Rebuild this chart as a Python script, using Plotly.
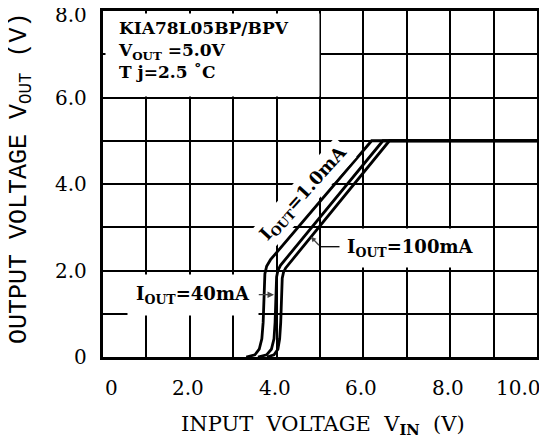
import plotly.graph_objects as go

# ---- data ----
x_ticks = [0, 2, 4, 6, 8, 10]
x_tick_labels = ["0", "2.0", "4.0", "6.0", "8.0", "10.0"]
y_ticks = [0, 2, 4, 6, 8]
y_tick_labels = ["0", "2.0", "4.0", "6.0", "8.0"]

vin_1mA = [3.30, 3.50, 3.60, 3.66, 3.69, 3.70, 3.71, 3.73, 3.77, 3.86, 6.19, 10.0]
vout_1mA = [0.00, 0.05, 0.18, 0.42, 0.80, 1.20, 1.65, 1.92, 2.10, 2.25, 5.00, 5.00]

vin_40mA = [3.57, 3.77, 3.88, 3.94, 3.965, 3.975, 3.985, 4.00, 4.03, 4.09, 6.45, 10.0]
vout_40mA = [0.00, 0.05, 0.18, 0.42, 0.80, 1.20, 1.60, 1.85, 2.00, 2.12, 5.00, 5.00]

vin_100mA = [3.78, 3.94, 4.03, 4.07, 4.095, 4.105, 4.115, 4.13, 4.16, 4.21, 6.60, 10.0]
vout_100mA = [0.00, 0.05, 0.18, 0.42, 0.80, 1.20, 1.60, 1.82, 1.96, 2.06, 5.00, 5.00]

info_lines = ["KIA78L05BP/BPV", "V<sub>OUT</sub> =5.0V", "T j=2.5 \u02daC"]
label_1mA = "I<sub>OUT</sub>=1.0mA"
label_40mA = "I<sub>OUT</sub>=40mA"
label_100mA = "I<sub>OUT</sub>=100mA"
x_title = "INPUT\u00a0\u00a0VOLTAGE\u00a0\u00a0V<sub><b>IN</b></sub>\u00a0\u00a0(V)"
y_title = "OUTPUT\u00a0VOLTAGE\u00a0V<sub>OUT</sub>\u00a0(V)"

SERIF = "DejaVu Serif"
fig = go.Figure()
for xs, ys in [(vin_1mA, vout_1mA), (vin_40mA, vout_40mA), (vin_100mA, vout_100mA)]:
    fig.add_trace(go.Scatter(x=xs, y=ys, mode="lines",
                             line=dict(color="black", width=2.8),
                             hoverinfo="skip"))

# leader line (horizontal part) for 100 mA label
fig.add_trace(go.Scatter(x=[5.01, 5.55], y=[2.55, 2.55], mode="lines",
                         line=dict(color="black", width=1.3), hoverinfo="skip"))

# the page has an 8px body margin, so the figure margins are reduced by 8px
fig.update_layout(
    template="none",
    width=547, height=448,
    margin=dict(l=95, r=18, t=3, b=99, pad=0),
    plot_bgcolor="white", paper_bgcolor="white",
    showlegend=False,
    font=dict(family=SERIF, color="black", size=19),
)
fig.update_xaxes(range=[0, 10], dtick=1, tick0=0, showgrid=True,
                 gridcolor="black", gridwidth=1.5, zeroline=False,
                 showline=True, mirror=True, linecolor="black", linewidth=3,
                 showticklabels=False, ticks="", automargin=False)
fig.update_yaxes(range=[0, 8], dtick=1, tick0=0, showgrid=True,
                 gridcolor="black", gridwidth=1.5, zeroline=False,
                 showline=True, mirror=True, linecolor="black", linewidth=3,
                 showticklabels=False, ticks="", automargin=False)

# white mask behind the info text (grid hidden there)
fig.add_annotation(xref="x", yref="y", x=0, y=8, xanchor="left", yanchor="top",
                   xshift=2, yshift=-2, width=213, height=82, borderpad=0,
                   bgcolor="white", showarrow=False, text=" ")
fig.add_annotation(xref="x", yref="y", x=0, y=8, xanchor="left", yanchor="top",
                   xshift=13, yshift=-5, align="left", showarrow=False,
                   text="<br>".join(info_lines),
                   font=dict(size=17, weight="bold"))

# x tick labels
for v, t in zip(x_ticks, x_tick_labels):
    anchor = "left" if v == x_ticks[0] else ("right" if v == x_ticks[-1] else "center")
    sh = 0 if anchor == "left" else (6 if anchor == "right" else -2)
    fig.add_annotation(xref="x", yref="paper", x=v, y=0, yanchor="middle",
                       xanchor=anchor, xshift=sh, yshift=-31, showarrow=False,
                       text=t, font=dict(size=20))
# y tick labels
for v, t in zip(y_ticks, y_tick_labels):
    fig.add_annotation(xref="paper", yref="y", x=0, y=v, xanchor="right",
                       yanchor="middle", xshift=-14,
                       yshift=(-4 if v == y_ticks[-1] else 0),
                       showarrow=False, text=t, font=dict(size=20))

# axis titles
fig.add_annotation(xref="paper", yref="paper", x=0.5, y=0, xshift=3, yshift=-68,
                   yanchor="middle", showarrow=False, text=x_title,
                   font=dict(size=21))
fig.add_annotation(xref="paper", yref="paper", x=0, y=0.5, xshift=-83, yshift=6,
                   xanchor="center", yanchor="middle", textangle=-90,
                   showarrow=False, text=y_title,
                   font=dict(family="Liberation Mono", size=25))

# curve labels
fig.add_annotation(xref="x", yref="y", x=4.62, y=3.77, textangle=-48,
                   showarrow=False, text=label_1mA, bgcolor="white",
                   borderpad=2, font=dict(size=18, weight="bold"))
fig.add_annotation(xref="x", yref="y", x=3.94, y=1.44, axref="x", ayref="y",
                   ax=2.08, ay=1.44, showarrow=True, arrowhead=2, arrowsize=1,
                   arrowwidth=1.3, text=label_40mA, bgcolor="white",
                   borderpad=8, font=dict(size=18, weight="bold"))
fig.add_annotation(xref="x", yref="y", x=4.79, y=2.78, axref="x", ayref="y",
                   ax=5.01, ay=2.55, showarrow=True, arrowhead=2, arrowsize=0.8,
                   arrowwidth=1.3, text="")
fig.add_annotation(xref="x", yref="y", x=7.08, y=2.52, showarrow=False,
                   text=label_100mA, bgcolor="white", borderpad=7,
                   font=dict(size=18, weight="bold"))

fig.write_html("out.html")
